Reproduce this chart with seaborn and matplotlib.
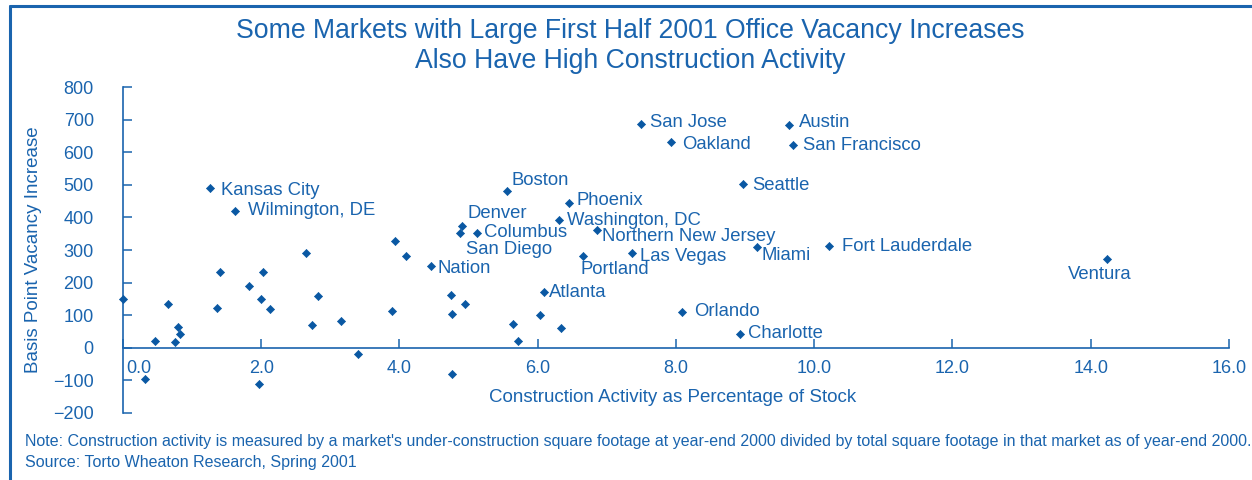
import matplotlib
matplotlib.use("Agg")
import matplotlib.pyplot as plt
import matplotlib.transforms as mtransforms
from matplotlib.lines import Line2D
import seaborn as sns
import pandas as pd

# labelled markets
names = ["Kansas City", "Wilmington, DE", "Nation", "Denver", "San Diego",
         "Columbus", "Boston", "Atlanta", "Washington, DC", "Phoenix",
         "Portland", "Northern New Jersey", "Las Vegas", "San Jose", "Oakland",
         "Orlando", "Charlotte", "Seattle", "Miami", "Austin",
         "San Francisco", "Fort Lauderdale", "Ventura"]
named_x = [1.26, 1.62, 4.45, 4.91, 4.87, 5.12, 5.56, 6.09, 6.31, 6.45,
           6.66, 6.86, 7.36, 7.50, 7.93, 8.09, 8.92, 8.97, 9.17, 9.63,
           9.69, 10.22, 14.23]
named_y = [490, 421, 251, 373, 352, 353, 482, 172, 392, 443,
           281, 361, 290, 686, 630, 111, 42, 502, 310, 682,
           622, 311, 273]

# unlabelled markets
other_x = [0.0, 0.32, 0.46, 0.65, 0.75, 0.79, 0.83, 1.36, 1.40, 1.83,
           2.00, 1.97, 2.02, 2.13, 2.65, 2.73, 2.82, 3.16, 3.40, 3.89,
           3.93, 4.10, 4.75, 4.95, 4.76, 4.76, 5.64, 5.71, 6.04, 6.33]
other_y = [151, -96, 22, 133, 19, 64, 41, 122, 232, 191,
           149, -110, 232, 120, 291, 70, 160, 82, -20, 112,
           329, 281, 163, 133, 104, -79, 73, 21, 101, 61]

x_ticks = [0, 2, 4, 6, 8, 10, 12, 14, 16]
y_ticks = [-200, -100, 0, 100, 200, 300, 400, 500, 600, 700, 800]

# label offsets in pixels (dx, dy, ha)
offsets = {
    "Kansas City": (11, -2, "left"), "Wilmington, DE": (13, 0, "left"),
    "Nation": (7, -3, "left"), "Denver": (5, 13, "left"),
    "San Diego": (6, -16, "left"), "Columbus": (7, 0, "left"),
    "Boston": (4, 10, "left"), "Atlanta": (5, -1, "left"),
    "Washington, DC": (8, 0, "left"), "Phoenix": (8, 3, "left"),
    "Portland": (-3, -13, "left"), "Northern New Jersey": (5, -6, "left"),
    "Las Vegas": (8, -3, "left"), "San Jose": (9, 2, "left"),
    "Oakland": (11, -2, "left"), "Orlando": (12, 0, "left"),
    "Charlotte": (8, 1, "left"), "Seattle": (9, -1, "left"),
    "Miami": (5, -9, "left"), "Austin": (10, 3, "left"),
    "San Francisco": (10, 0, "left"), "Fort Lauderdale": (13, 0, "left"),
    "Ventura": (-7, -16, "center"),
}

text_c = "#1a64ae"
mark_c = "#0a58a3"

sns.set_style("white")
plt.rcParams["font.family"] = ["Liberation Sans", "DejaVu Sans"]

df = pd.DataFrame({"x": named_x + other_x, "y": named_y + other_y})

fig = plt.figure(figsize=(12.52, 4.8), dpi=100)
ax = fig.add_axes([0.0982, 0.1396, 0.8834, 0.6791])

sns.scatterplot(data=df, x="x", y="y", ax=ax, marker="D", s=17,
                color=mark_c, edgecolor=mark_c, linewidth=0.5,
                clip_on=False, zorder=3)

for n, xv, yv in zip(names, named_x, named_y):
    dx, dy, ha = offsets[n]
    ax.annotate(n, (xv, yv), xytext=(dx * 0.72, dy * 0.72),
                textcoords="offset points", ha=ha, va="center",
                fontsize=13.3, color=text_c)

ax.set_xlim(0, 16)
ax.set_ylim(-200, 800)
ax.set_xticks(x_ticks)
ax.set_yticks(y_ticks)
ax.set_xticklabels([f"{t:.1f}" for t in x_ticks])
ax.set_yticklabels([str(t).replace("-", "\u2212") for t in y_ticks])

for s in ["top", "right"]:
    ax.spines[s].set_visible(False)
ax.spines["bottom"].set_position(("data", 0))
for s in ["left", "bottom"]:
    ax.spines[s].set_color(text_c)
    ax.spines[s].set_linewidth(1.2)

ax.tick_params(axis="y", direction="in", length=6.5, width=1.1,
               color=text_c, labelcolor=text_c, labelsize=13, pad=21,
               left=True)
ax.tick_params(axis="x", direction="in", length=6.5, width=1.1,
               color=text_c, labelcolor=text_c, labelsize=13, pad=9,
               bottom=True)

# nudge the 0.0 label off the y axis
lab0 = ax.get_xticklabels()[0]
lab0.set_transform(lab0.get_transform() +
                   mtransforms.ScaledTranslation(16 / 100, 0, fig.dpi_scale_trans))

ax.set_xlabel("Construction Activity as Percentage of Stock",
              fontsize=13.5, color=text_c)
ax.xaxis.set_label_coords(0.497, 0.075)
ax.set_ylabel("Basis Point Vacancy Increase", fontsize=13.5, color=text_c)
ax.yaxis.set_label_coords(-0.073, 0.5)

fig.text(0.503, 0.935, "Some Markets with Large First Half 2001 Office Vacancy Increases",
         ha="center", va="center", fontsize=19.2, color=text_c)
fig.text(0.503, 0.872, "Also Have High Construction Activity",
         ha="center", va="center", fontsize=19.2, color=text_c)

note_font = ["Liberation Sans", "DejaVu Sans"]
fig.text(0.02, 0.081,
         "Note: Construction activity is measured by a market's under-construction square footage "
         "at year-end 2000 divided by total square footage in that market as of year-end 2000.",
         ha="left", va="center", fontsize=11.5, color=text_c, family=note_font)
fig.text(0.02, 0.037, "Source: Torto Wheaton Research, Spring 2001",
         ha="left", va="center", fontsize=11.5, color=text_c, family=note_font)

# open frame along the top and left edges
fig.add_artist(Line2D([0.0076, 1.0], [0.9875, 0.9875], transform=fig.transFigure,
                      color=text_c, lw=2.2))
fig.add_artist(Line2D([0.0076, 0.0076], [0.0, 0.9875], transform=fig.transFigure,
                      color=text_c, lw=2.2))

fig.savefig("out.png", dpi=100)
